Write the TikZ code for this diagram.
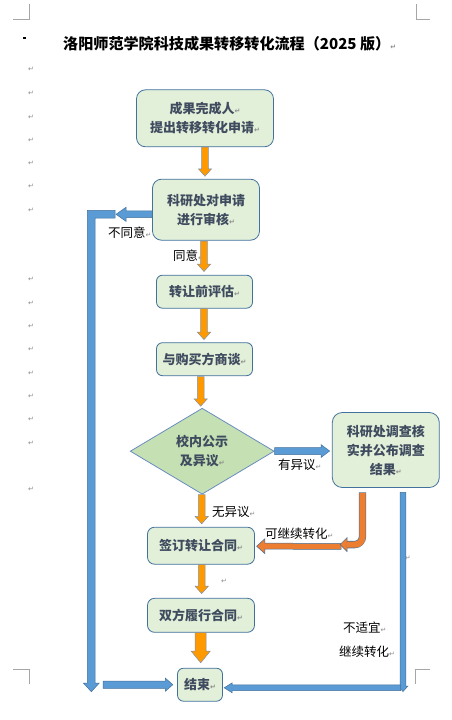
\documentclass[tikz,border=0pt]{standalone}
\usepackage{fontspec}
\setmainfont{Noto Sans CJK SC}
\newfontfamily\djv{DejaVu Sans}
\usetikzlibrary{calc,shapes.geometric}
\definecolor{boxfill}{HTML}{E2EFD9}
\definecolor{boxline}{HTML}{41719C}
\definecolor{dfill}{HTML}{C5E0B3}
\definecolor{dline}{HTML}{6A8CC0}
\definecolor{txt}{HTML}{3F4B5E}
\definecolor{orA}{HTML}{FF9900}
\definecolor{orB}{HTML}{ED7D31}
\definecolor{blA}{HTML}{5B9BD5}
\definecolor{oline}{HTML}{7F93AE}
\definecolor{pmgray}{HTML}{8A8A8A}
\newcommand\parmark{{\djv\fontsize{7}{7}\selectfont\textcolor{pmgray}{↵}}}
\tikzset{
  flowbox/.style={draw=boxline, fill=boxfill, line width=0.8pt, rounded corners=8pt,
    inner sep=0pt, align=center, text=txt, font=\fontsize{13}{19}\selectfont\bfseries},
  lbl/.style={anchor=west, inner sep=0pt, font=\fontsize{12.5}{14}\selectfont},
  pmark/.style={inner sep=0pt, font=\djv\fontsize{7}{7}\selectfont, text=pmgray},
  cornermark/.style={draw=gray!70, line width=0.8pt},
  barrow/.style n args={3}{to path={
    (\tikztostart) coordinate (bas) (\tikztotarget) coordinate (bat)
    ($(bat)!#3!(bas)$) coordinate (bah)
    ($(bas)!#1!90:(bat)$) -- ($(bah)!#1!90:(bat)$) -- ($(bah)!#2!90:(bat)$)
    -- (bat) -- ($(bah)!#2!-90:(bat)$) -- ($(bah)!#1!-90:(bat)$)
    -- ($(bas)!#1!-90:(bat)$) -- cycle}},
  oarr/.style={draw=oline, fill=orA, line width=0.5pt},
  oarrB/.style={draw=boxline, fill=orB, line width=0.5pt},
  barr/.style={draw=boxline, fill=blA, line width=0.5pt},
}
\begin{document}
\begin{tikzpicture}[x=1pt,y=-1pt]
\useasboundingbox (0,0) rectangle (452,720);
% page corner marks
\draw[cornermark] (13,19) -- (29,19) -- (29,4);
\draw[cornermark] (430,19) -- (416,19) -- (416,4);
\draw[cornermark] (13,669.5) -- (29,669.5) -- (29,684);
\draw[cornermark] (430,669.5) -- (415.5,669.5) -- (415.5,684);
\fill (23.3,36.7) rectangle (25.8,39.2);
% title
\node[anchor=west, inner sep=0pt, font=\fontsize{15.1}{16}\selectfont\bfseries] (title) at (63,44)
  {洛阳师范学院科技成果转移转化流程（2025 版）\parmark};
% left margin paragraph marks
\foreach \yy [count=\i] in {69,93,117,140,163,186,210,279,303,326,349,373,396,419,443,489}
  \node[pmark] (lm\i) at (31,\yy) {↵};
\node[pmark] (pm1) at (224,581) {↵};
\node[pmark] (pm2) at (407.7,558) {↵};
% boxes
\node[flowbox, minimum width=137pt, minimum height=57pt, rounded corners=9pt] (b1) at (205,118.3)
  {成果完成人\parmark\\提出转移转化申请\parmark};
\node[flowbox, minimum width=107pt, minimum height=61pt, rounded corners=9pt] (b2) at (206,209.7)
  {科研处对申请\\进行审核\parmark};
\node[flowbox, minimum width=96pt, minimum height=33pt, rounded corners=6pt] (b3) at (204.5,291.7)
  {转让前评估\parmark};
\node[flowbox, minimum width=96pt, minimum height=33pt, rounded corners=6pt] (b4) at (204.5,359.2)
  {与购买方商谈\parmark};
\node[diamond, draw=dline, fill=dfill, line width=0.8pt, minimum width=144pt, minimum height=86pt,
  aspect=1.67, inner sep=0pt, align=center, text=txt, font=\fontsize{13}{18.7}\selectfont\bfseries]
  (d) at (202.2,451.2) {校内公示\\及异议\parmark};
\node[flowbox, minimum width=107pt, minimum height=75pt, rounded corners=10pt] (b6) at (385.8,450)
  {科研处调查核\\实并公布调查\\结果\parmark};
\node[flowbox, minimum width=107pt, minimum height=37pt, rounded corners=7pt] (b7) at (201,545.7)
  {签订转让合同\parmark};
\node[flowbox, minimum width=107pt, minimum height=34pt, rounded corners=7pt] (b8) at (201,615.3)
  {双方履行合同\parmark};
\node[flowbox, minimum width=45pt, minimum height=33pt, rounded corners=6pt] (b9) at (200,684.7)
  {结束\parmark};
% labels
\node[lbl] (l1) at (108,232.7) {不同意\parmark};
\node[lbl] (l2) at (173,256) {同意\parmark};
\node[lbl] (l3) at (278,465) {有异议\parmark};
\node[lbl] (l4) at (212,512) {无异议\parmark};
\node[lbl] (l5) at (265,534) {可继续转化\parmark};
\node[lbl] (l6) at (343,628) {不适宜\parmark};
\node[lbl] (l7) at (339,652) {继续转化\parmark};
% free ends
\coordinate (nt1) at (116,214.3);
\coordinate (lh) at (103,684.7);
\coordinate (rv) at (403,691.5);
\coordinate (rh) at (400.5,687.8);
\coordinate (e1) at (347,544.6);
\coordinate (etip) at (340,544.6);
\coordinate (e2) at (341,546.3);
% orange main flow arrows
\draw[oarr, barrow={3.35pt}{6.65pt}{7.4pt}] (b1.south) to ($(b2.north)+(-1,-2.6)$);
\draw[oarr, barrow={3.35pt}{6.65pt}{7.4pt}] ($(b2.south)+(-2,0.5)$) to ($(b3.north)+(-0.5,-3.3)$);
\draw[oarr, barrow={3.35pt}{6.65pt}{7.4pt}] ($(b3.south)+(-0.5,0)$) to ($(b4.north)+(-0.5,-2.7)$);
\draw[oarr, barrow={3.35pt}{6.65pt}{7.4pt}] ($(b4.south)+(-3.8,0.5)$) to ($(d.north)+(-1.5,-1.6)$);
\draw[oarr, barrow={3.35pt}{6.65pt}{7.4pt}] ($(d.south)+(-0.5,0)$) to ($(b7.north)+(0.7,-3)$);
\draw[oarr, barrow={3.35pt}{6.65pt}{7.4pt}] ($(b7.south)+(0.7,0)$) to ($(b8.north)+(0.7,-4.3)$);
\draw[oarr, barrow={5.5pt}{9.5pt}{11.6pt}] ($(b8.south)+(-0.3,0)$) to ($(b9.north)+(0.7,-5)$);
% blue: not agreed
\draw[barr] (115,210.4) -- (87.4,210.4) -- (87.4,683) -- (83.3,683) -- (91.3,691.7)
  -- (99.3,683) -- (95.2,683) -- (95.2,218.2) -- (115,218.2) -- cycle;
\draw[barr, barrow={3.4pt}{7pt}{10pt}] ($(b2.west)+(0,4.6)$) to (nt1);
\draw[barr, barrow={3.6pt}{6.6pt}{7.5pt}] (lh) to ($(b9.west)+(-4.3,0)$);
% blue: objection
\draw[barr, barrow={3.5pt}{6.4pt}{8.5pt}] (d.east) to ($(b6.west)+(-2.3,1)$);
% blue: not suitable
\draw[barr, barrow={2.85pt}{5pt}{5.5pt}] ($(b6.south)+(17.2,4.4)$) to (rv);
\draw[barr, barrow={2.85pt}{5pt}{8pt}] (rh) to ($(b9.east)+(1.3,3.1)$);
% orange: can continue
\draw[oarrB, barrow={3pt}{7.5pt}{8.3pt}] (e2) to ($(b7.east)+(1.7,0.5)$);
\draw[line width=7.3pt, draw=boxline, rounded corners=8pt] ($(b6.south)+(-23.3,4.4)$) |- (e1);
\draw[oarrB] ($(e1)+(0,-7)$) -- (etip) -- ($(e1)+(0,7)$) -- cycle;
\draw[line width=6.2pt, draw=orB, rounded corners=7.5pt] ($(b6.south)+(-23.3,4.9)$) |- ($(e1)+(-0.6,0)$);
\end{tikzpicture}
\end{document}
